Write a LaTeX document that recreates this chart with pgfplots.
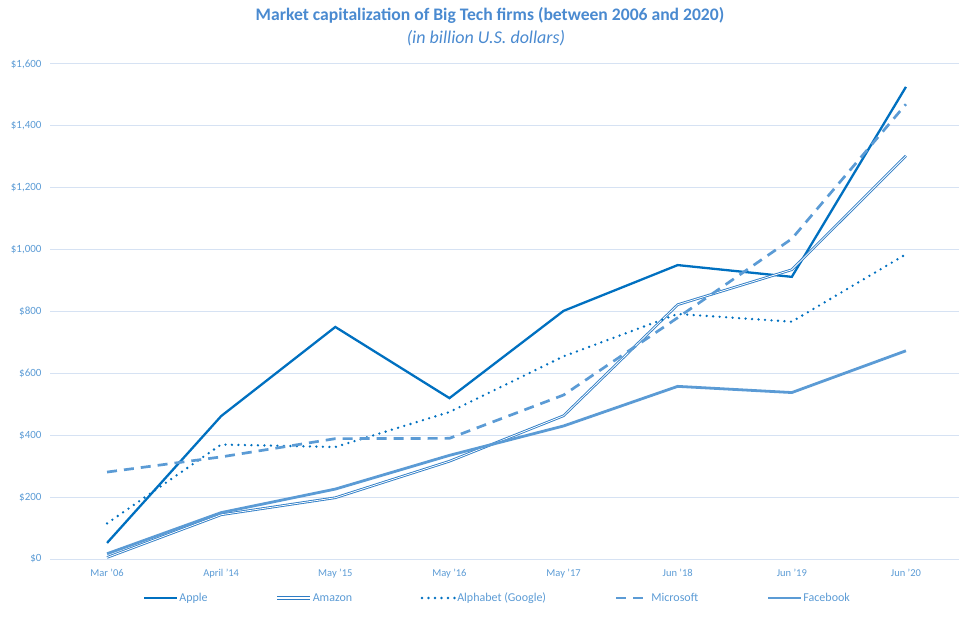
\documentclass[border=0pt]{standalone}
\usepackage{pgfplots}
\pgfplotsset{compat=1.18}
\usepackage{fontspec}
\setmainfont{Carlito}
\definecolor{txt}{HTML}{5B9BD5}
\definecolor{ttl}{HTML}{4A8AD0}
\definecolor{dark}{HTML}{0070C0}
\definecolor{mid}{HTML}{2E7DC6}
\definecolor{light}{HTML}{5B9BD5}
\definecolor{gridc}{HTML}{D6E2F3}
\begin{document}
\begin{tikzpicture}
\useasboundingbox (0bp,0bp) rectangle (959bp,621bp);
\begin{axis}[
  at={(50bp,62bp)}, anchor=south west,
  scale only axis, width=913bp, height=495bp,
  xmin=-0.5, xmax=7.5, ymin=0, ymax=1600,
  ytick={0,200,...,1600},
  xtick={0,...,7},
  xticklabels={Mar '06, April '14, May '15, May '16, May '17, Jun '18, Jun '19, Jun '20},
  axis line style={draw=none},
  major tick length=0pt,
  ymajorgrids,
  grid style={gridc, line width=1bp},
  /pgf/number format/assume math mode=true,
  /pgf/number format/.cd, 1000 sep={,}, /pgfplots/.cd,
  yticklabel={\$\pgfmathprintnumber{\tick}},
  yticklabel style={font=\fontsize{11bp}{13bp}\selectfont, text=txt, xshift=-5bp},
  xticklabel style={font=\fontsize{10.5bp}{12bp}\selectfont, text=txt, yshift=-7bp},
  legend columns=5,
  legend cell align=left,
  legend image code/.code={\draw[#1] (0bp,0bp) -- (33bp,0bp);},
  legend style={at={(0.4896,-0.0788)}, anchor=center, draw=none, fill=none,
    font=\fontsize{12bp}{14bp}\selectfont, text=txt,
    nodes={inner xsep=1bp},
    /tikz/every even column/.append style={column sep=67.5bp}},
]
\addplot[dark, line width=2.3bp] coordinates {(0,52) (1,462) (2,750) (3,520) (4,802) (5,950) (6,912) (7,1526)};
\addlegendentry{Apple}
\addplot[mid, line width=0.9bp, double=white, double distance=0.8bp,
  legend image code/.code={
    \draw[mid, line width=0.9bp] (0bp,0.85bp) -- (33bp,0.85bp);
    \draw[mid, line width=0.9bp] (0bp,-0.85bp) -- (33bp,-0.85bp);}] coordinates {(0,5) (1,143) (2,198) (3,316) (4,463) (5,822) (6,935) (7,1303)};
\addlegendentry{Amazon}
\addplot[dark, line width=2.6bp, line cap=round, dash pattern=on 0bp off 6.5bp] coordinates {(0,115) (1,370) (2,362) (3,475) (4,655) (5,792) (6,767) (7,985)};
\addlegendentry{Alphabet (Google)}
\addplot[light, line width=2.7bp, dash pattern=on 10bp off 7bp] coordinates {(0,281) (1,330) (2,389) (3,390) (4,530) (5,780) (6,1035) (7,1470)};
\addlegendentry{Microsoft}
\addplot[light, line width=2.8bp] coordinates {(0,17) (1,150) (2,226) (3,335) (4,430) (5,558) (6,538) (7,673)};
\addlegendentry{Facebook}
\end{axis}
\node[font=\fontsize{17.6bp}{20bp}\selectfont\bfseries, text=ttl] at (490bp,606bp) {Market capitalization of Big Tech firms (between 2006 and 2020)};
\node[font=\fontsize{18bp}{21bp}\selectfont\itshape, text=ttl] at (486bp,583bp) {(in billion U.S. dollars)};
\end{tikzpicture}
\end{document}
